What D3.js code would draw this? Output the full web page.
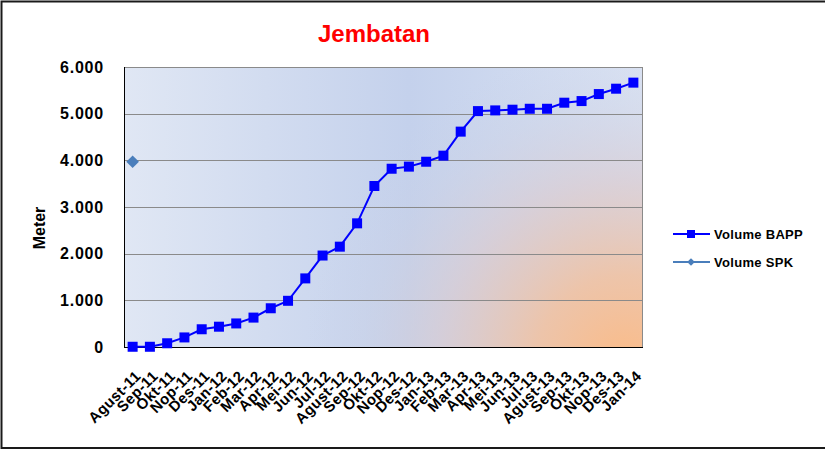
<!DOCTYPE html>
<html><head><meta charset="utf-8">
<script src="https://cdn.jsdelivr.net/npm/d3@7"></script>
<style>body{margin:0;background:#fff;}svg{display:block;font-family:"Liberation Sans",Arial,sans-serif;}</style>
</head><body>
<svg id="c" width="825" height="450"></svg>
<script>
const categories = ["Agust-11","Sep-11","Okt-11","Nop-11","Des-11","Jan-12","Feb-12","Mar-12","Apr-12","Mei-12","Jun-12","Jul-12","Agust-12","Sep-12","Okt-12","Nop-12","Des-12","Jan-13","Feb-13","Mar-13","Apr-13","Mei-13","Jun-13","Jul-13","Agust-13","Sep-13","Okt-13","Nop-13","Des-13","Jan-14"];
const volumeBAPP = [5,5,80,205,380,435,505,630,830,990,1470,1960,2150,2650,3450,3820,3865,3970,4100,4615,5055,5070,5085,5105,5105,5235,5270,5420,5535,5665];
const volumeSPK = [3970,null,null,null,null,null,null,null,null,null,null,null,null,null,null,null,null,null,null,null,null,null,null,null,null,null,null,null,null,null];
const yTicks = [0,1000,2000,3000,4000,5000,6000];
const seriesNames = ["Volume BAPP","Volume SPK"];

const svg = d3.select("#c");
const m = {l:124, t:67, r:642, b:347};
const x = d3.scaleBand().domain(categories).range([m.l, m.r]);
const y = d3.scaleLinear().domain([0,6000]).range([m.b, m.t]);
const fmt = v => d3.format(",")(v).replace(/,/g,".");

// outer frame
svg.append("rect").attr("x",1.5).attr("y",1.5).attr("width",830).attr("height",446.5)
  .attr("fill","#fff").attr("stroke","#1a1a1a").attr("stroke-width",2);

const defs = svg.append("defs");
const lg = defs.append("linearGradient").attr("id","bg").attr("x1","0").attr("y1","0").attr("x2","1").attr("y2","0");
lg.append("stop").attr("offset","0%").attr("stop-color","#e0e7f4");
lg.append("stop").attr("offset","55%").attr("stop-color","#c4d1ec");
lg.append("stop").attr("offset","100%").attr("stop-color","#dbe3f3");
const rg = defs.append("radialGradient").attr("id","rg").attr("gradientUnits","userSpaceOnUse")
  .attr("cx",625).attr("cy",365).attr("r",320);
rg.append("stop").attr("offset","0%").attr("stop-color","#fbbb87").attr("stop-opacity",1);
rg.append("stop").attr("offset","28%").attr("stop-color","#efc2a4").attr("stop-opacity",0.92);
rg.append("stop").attr("offset","58%").attr("stop-color","#dacbd0").attr("stop-opacity",0.7);
rg.append("stop").attr("offset","82%").attr("stop-color","#ccd0e2").attr("stop-opacity",0.3);
rg.append("stop").attr("offset","100%").attr("stop-color","#c8d0e8").attr("stop-opacity",0);

svg.append("rect").attr("x",m.l).attr("y",m.t).attr("width",m.r-m.l).attr("height",m.b-m.t).attr("fill","url(#bg)");
svg.append("rect").attr("x",m.l).attr("y",m.t).attr("width",m.r-m.l).attr("height",m.b-m.t).attr("fill","url(#rg)");

// gridlines
svg.append("g").selectAll("line").data(yTicks.filter(d=>d>0)).join("line")
  .attr("x1",m.l).attr("x2",m.r).attr("y1",d=>Math.round(y(d))+0.5).attr("y2",d=>Math.round(y(d))+0.5)
  .attr("stroke","#8a8a8a").attr("stroke-width",1);

// plot border
svg.append("rect").attr("x",m.l+0.5).attr("y",m.t+0.5).attr("width",m.r-m.l).attr("height",m.b-m.t)
  .attr("fill","none").attr("stroke","#8a8a8a").attr("stroke-width",1);
svg.append("line").attr("x1",m.l+0.5).attr("x2",m.l+0.5).attr("y1",m.t).attr("y2",m.b+1).attr("stroke","#000");
svg.append("line").attr("x1",m.l).attr("x2",m.r+1).attr("y1",m.b+0.5).attr("y2",m.b+0.5).attr("stroke","#000");

// y axis labels
const yAxis = d3.axisLeft(y).tickValues(yTicks).tickFormat(fmt).tickSize(0).tickPadding(0);
const ya = svg.append("g").attr("transform",`translate(104,0)`).call(yAxis);
ya.select(".domain").remove();
ya.selectAll("text").attr("font-size","16px").attr("font-weight","bold").attr("fill","#000")
  .attr("letter-spacing","0.8px").attr("font-family","'Liberation Sans',Arial,sans-serif");

// x axis labels
const xAxis = d3.axisBottom(x).tickSize(0).tickPadding(0);
const xa = svg.append("g").attr("transform",`translate(0,${m.b})`).call(xAxis);
xa.select(".domain").remove();
xa.selectAll("text").attr("font-size","15px").attr("font-weight","bold").attr("fill","#000")
  .attr("font-family","'Liberation Sans',Arial,sans-serif").attr("letter-spacing","0.4px")
  .attr("text-anchor","end").attr("dy",0).attr("y",0)
  .attr("transform","translate(9,30) rotate(-45)");

// title
svg.append("text").attr("x",374).attr("y",42).attr("text-anchor","middle")
  .attr("font-size","24px").attr("font-weight","bold").attr("fill","#ff0000").text("Jembatan");
// y title
svg.append("text").attr("transform","translate(45,228) rotate(-90)").attr("text-anchor","middle")
  .attr("font-size","16px").attr("font-weight","bold").attr("fill","#000").text("Meter");

const cx = d => x(d) + x.bandwidth()/2;
// BAPP line
const line = d3.line().defined(d=>d.v!=null).x(d=>cx(d.c)).y(d=>y(d.v));
const bapp = categories.map((c,i)=>({c, v:volumeBAPP[i]}));
svg.append("path").datum(bapp).attr("d",line).attr("fill","none").attr("stroke","#0000ff").attr("stroke-width",2);
svg.append("g").selectAll("rect").data(bapp).join("rect")
  .attr("x",d=>cx(d.c)-5).attr("y",d=>y(d.v)-5).attr("width",10).attr("height",10).attr("fill","#0000ff");

// SPK
const spk = categories.map((c,i)=>({c, v:volumeSPK[i]})).filter(d=>d.v!=null);
svg.append("path").datum(categories.map((c,i)=>({c, v:volumeSPK[i]}))).attr("d",line)
  .attr("fill","none").attr("stroke","#4a7ebb").attr("stroke-width",2);
svg.append("g").selectAll("path.d").data(spk).join("path")
  .attr("d",d3.symbol(d3.symbolSquare, 80)())
  .attr("transform",d=>`translate(${cx(d.c)},${y(d.v)}) rotate(45)`)
  .attr("fill","#4a7ebb");

// legend
const leg = svg.append("g");
const ly = [234, 262];
seriesNames.forEach((n,i)=>{
  const g = leg.append("g").attr("transform",`translate(0,${ly[i]})`);
  g.append("line").attr("x1",673).attr("x2",710).attr("y1",0).attr("y2",0)
    .attr("stroke", i===0?"#0000ff":"#4a7ebb").attr("stroke-width",2);
  if(i===0) g.append("rect").attr("x",687).attr("y",-4).attr("width",8).attr("height",8).attr("fill","#0000ff");
  else g.append("path").attr("d",d3.symbol(d3.symbolSquare, 30)()).attr("transform","translate(691,0) rotate(45)").attr("fill","#4a7ebb");
  g.append("text").attr("x",714).attr("y",4.5).attr("font-size","13px").attr("font-weight","bold")
    .attr("letter-spacing","0.3px").attr("fill","#000").text(n);
});
</script>
</body></html>
